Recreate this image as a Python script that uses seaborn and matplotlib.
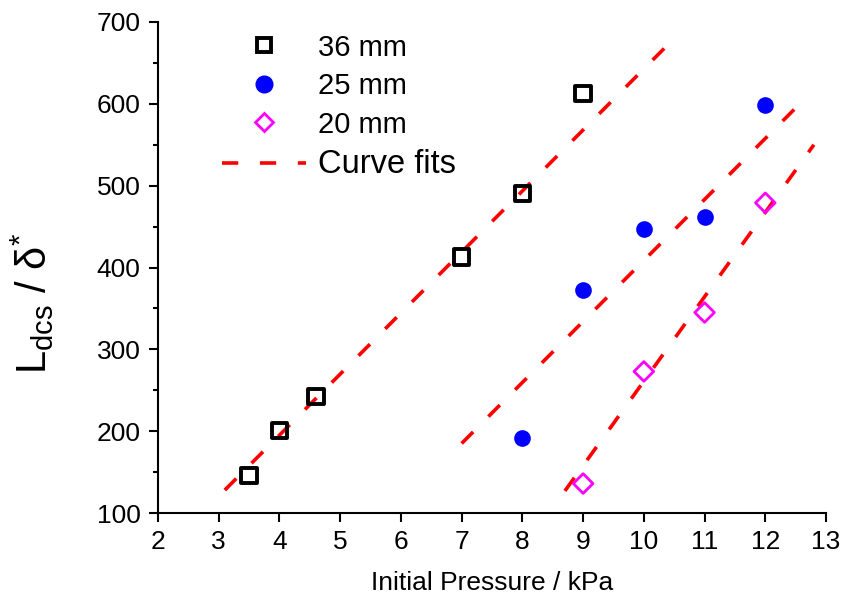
import numpy as np
import pandas as pd
import matplotlib
matplotlib.use('Agg')
import matplotlib.pyplot as plt
from matplotlib.lines import Line2D
from matplotlib.ticker import MultipleLocator
import seaborn as sns

# datos
p36 = [3.5, 4.0, 4.6, 7.0, 8.0, 9.0]
l36 = [146, 201, 242, 413, 490, 613]
p25 = [8, 9, 10, 11, 12]
l25 = [192, 373, 447, 462, 599]
p20 = [9, 10, 11, 12]
l20 = [136, 273, 345, 479]

# extremos de las rectas de ajuste
fit36_x = [3.1, 10.5]
fit36_y = [128, 680]
fit25_x = [7.0, 12.5]
fit25_y = [185, 595]
fit20_x = [8.7, 12.8]
fit20_y = [127, 550]

sns.set_style('ticks')
plt.rcParams['font.family'] = ['Liberation Sans', 'DejaVu Sans']
plt.rcParams['mathtext.fontset'] = 'custom'
plt.rcParams['mathtext.rm'] = 'Liberation Sans'
plt.rcParams['mathtext.it'] = 'Liberation Sans:italic'
for k in ['text.color', 'axes.labelcolor', 'xtick.color', 'ytick.color', 'axes.edgecolor']:
    plt.rcParams[k] = 'black'

fig = plt.figure(figsize=(8.43, 6.01), dpi=100)
ax = fig.add_axes([0.1874, 0.1464, 0.7925, 0.817])

dash = (0, (4.5, 6.0))
fit_kw = dict(color='red', linewidth=2.6, linestyle=dash, ax=ax)
sns.lineplot(x=fit36_x, y=fit36_y, **fit_kw)
sns.lineplot(x=fit25_x, y=fit25_y, **fit_kw)
sns.lineplot(x=fit20_x, y=fit20_y, **fit_kw)

sns.scatterplot(x=p36, y=l36, marker='s', s=11**2, facecolor='none',
                edgecolor='black', linewidth=2.8, ax=ax, zorder=3)
sns.scatterplot(x=p25, y=l25, marker='o', s=12**2, color='blue',
                edgecolor='blue', linewidth=0, ax=ax, zorder=3)
sns.scatterplot(x=p20, y=l20, marker='D', s=10**2, facecolor='none',
                edgecolor='magenta', linewidth=2.0, ax=ax, zorder=3)

ax.set_xlim(2, 13)
ax.set_ylim(100, 700)
ax.xaxis.set_major_locator(MultipleLocator(1))
ax.yaxis.set_major_locator(MultipleLocator(100))
ax.yaxis.set_minor_locator(MultipleLocator(50))
sns.despine(ax=ax)
for s in ['left', 'bottom']:
    ax.spines[s].set_linewidth(1.5)
ax.tick_params(which='major', direction='out', length=6.5, width=1.5,
               labelsize=19, pad=6)
ax.tick_params(which='minor', direction='out', length=3.5, width=1.5)

ax.set_xlabel('Initial Pressure / kPa', fontsize=19, labelpad=12)
ax.set_ylabel(r'L$_{\rm dcs}$ / $\rm\delta^{*}$', fontsize=30)
ax.yaxis.set_label_coords(-0.153, 0.426)

handles = [
    Line2D([], [], linestyle='none', marker='s', markersize=10.5,
           markerfacecolor='none', markeredgecolor='black', markeredgewidth=2.8),
    Line2D([], [], linestyle='none', marker='o', markersize=12,
           color='blue'),
    Line2D([], [], linestyle='none', marker='D', markersize=9.5,
           markerfacecolor='none', markeredgecolor='magenta', markeredgewidth=2.0),
    Line2D([], [], color='red', linewidth=2.6, linestyle=dash),
]
labels = ['36 mm', '25 mm', '20 mm', 'Curve fits']
leg = ax.legend(handles, labels, loc='upper left', bbox_to_anchor=(0.078, 1.0),
                frameon=False, fontsize=21, handlelength=2.9, handletextpad=0.4,
                labelspacing=0.36, borderaxespad=0)
leg.get_texts()[3].set_fontsize(23.5)

fig.savefig('out.png', dpi=100)
